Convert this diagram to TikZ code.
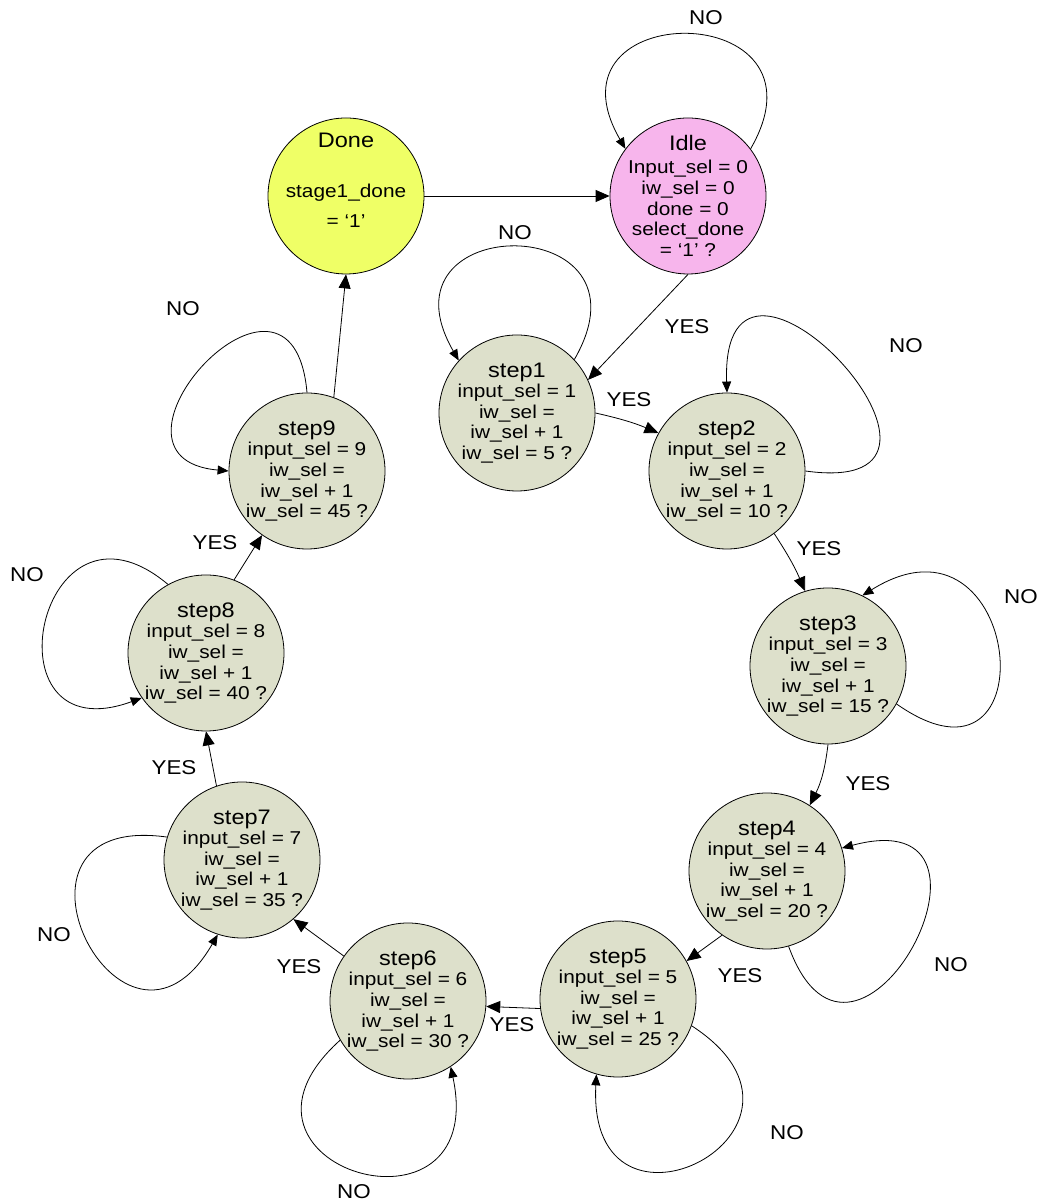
\documentclass[tikz,border=0pt]{standalone}
\usepackage{fontspec}
\setmainfont{Liberation Sans}[FakeStretch=1.12]
\usepackage{xcolor}
\usetikzlibrary{arrows.meta}
\definecolor{lightyellow}{HTML}{EFFF66}
\definecolor{lightpink}{HTML}{F7B5EC}
\definecolor{lightsage}{HTML}{DDE0CB}
\newcommand{\stname}[1]{{\fontsize{10.5}{10.5}\selectfont #1}}

\begin{document}
\begin{tikzpicture}[x=0.5pt,y=0.5pt,
	state/.style={draw, circle, fill=lightsage, inner sep=-8pt, minimum size=78pt, align=center, font=\fontsize{9.3}{10.3}\selectfont},
	lbl/.style={font=\fontsize{10}{12}\selectfont},
	>={Triangle[length=7pt,width=6pt]},
	selfloop/.style={-{Triangle[length=5.5pt,width=4.5pt]}}]
	\useasboundingbox (0,0) rectangle (1045,1204);
	\node	(done) at (346,1008) [state, fill=lightyellow] {\stname{Done}\\[14.8pt]stage1\_done\\[4.8pt]= ‘1’\rule[-16pt]{0pt}{16pt}};
	\node	(idle) at (688,1008) [state, fill=lightpink] {\stname{Idle}\\[1.2pt]Input\_sel = 0\\iw\_sel = 0\\done = 0\\select\_done\\= ‘1’ ?};
	\node	(s1) at (517,791) [state] {\stname{step1}\\input\_sel = 1\\iw\_sel =\\iw\_sel + 1\\iw\_sel = 5 ?};
	\node	(s2) at (727,733) [state] {\stname{step2}\\input\_sel = 2\\iw\_sel =\\iw\_sel + 1\\iw\_sel = 10 ?};
	\node	(s3) at (828,538) [state] {\stname{step3}\\input\_sel = 3\\iw\_sel =\\iw\_sel + 1\\iw\_sel = 15 ?};
	\node	(s4) at (767,333) [state] {\stname{step4}\\input\_sel = 4\\iw\_sel =\\iw\_sel + 1\\iw\_sel = 20 ?};
	\node	(s5) at (618,205) [state] {\stname{step5}\\input\_sel = 5\\iw\_sel =\\iw\_sel + 1\\iw\_sel = 25 ?};
	\node	(s6) at (408,203) [state] {\stname{step6}\\input\_sel = 6\\iw\_sel =\\iw\_sel + 1\\iw\_sel = 30 ?};
	\node	(s7) at (242,344) [state] {\stname{step7}\\input\_sel = 7\\iw\_sel =\\iw\_sel + 1\\iw\_sel = 35 ?};
	\node	(s8) at (206,551) [state] {\stname{step8}\\input\_sel = 8\\iw\_sel =\\iw\_sel + 1\\iw\_sel = 40 ?};
	\node	(s9) at (307,733) [state] {\stname{step9}\\input\_sel = 9\\iw\_sel =\\iw\_sel + 1\\iw\_sel = 45 ?};

	\node	(noidle) at (706,1186) [lbl] {NO};
	\node	(no1) at (515,971) [lbl] {NO};
	\node	(yes0) at (687,877) [lbl] {YES};
	\node	(yes1) at (629,804) [lbl] {YES};
	\node	(no2) at (906,858) [lbl] {NO};
	\node	(yes2) at (819,655) [lbl] {YES};
	\node	(no3) at (1021,607) [lbl] {NO};
	\node	(yes3) at (868,420) [lbl] {YES};
	\node	(no4) at (951,239) [lbl] {NO};
	\node	(yes4) at (740,228) [lbl] {YES};
	\node	(no5) at (787,71) [lbl] {NO};
	\node	(yes5) at (512,179) [lbl] {YES};
	\node	(yes6) at (299,237) [lbl] {YES};
	\node	(no6) at (354,12) [lbl] {NO};
	\node	(no7) at (54,269) [lbl] {NO};
	\node	(yes7) at (174,436) [lbl] {YES};
	\node	(no8) at (27,629) [lbl] {NO};
	\node	(yes8) at (215,661) [lbl] {YES};
	\node	(no9) at (183,895) [lbl] {NO};

	\draw
	(done) edge[->] (idle)
	(idle.south) edge[->] (s1.25)
	(s1.0) edge[->, bend left=5] (s2.151)
	(s2.-53) edge[->, bend left=5] (s3.107)
	(s3.-90) edge[->, bend left=10] (s4.57)
	(s4.-125) edge[->] (s5.29)
	(s5.187) edge[->] (s6.-4)
	(s6.145) edge[->] (s7.-49)
	(s7.109) edge[->] (s8.-90)
	(s8.69) edge[->] (s9.-125)
	(s9.70) edge[->] (done.-90)
	;
	% self loops
	\draw[selfloop] (idle.37) to[out=60,in=120,distance=88pt] (idle.143);
	\draw[selfloop] (s1.43) to[out=60,in=120,distance=87pt] (s1.138);
	\draw[selfloop] (s2.0) to[out=-8,in=92,distance=105pt] (s2.90);
	\draw[selfloop] (s3.-29) to[out=-35,in=32,distance=95pt] (s3.64);
	\draw[selfloop] (s4.-74) to[out=-70,in=15,distance=98pt] (s4.17);
	\draw[selfloop] (s5.-20) to[out=-33,in=-93,distance=95pt] (s5.-106);
	\draw[selfloop] (s6.-150) to[out=-138,in=-78,distance=95pt] (s6.-57);
	\draw[selfloop] (s7.163) to[out=172,in=240,distance=95pt] (s7.252);
	\draw[selfloop] (s8.119) to[out=140,in=200,distance=85pt] (s8.215);
	\draw[selfloop] (s9.90) to[out=95,in=175,out distance=85pt,in distance=75pt] (s9.180);
\end{tikzpicture}
\end{document}
